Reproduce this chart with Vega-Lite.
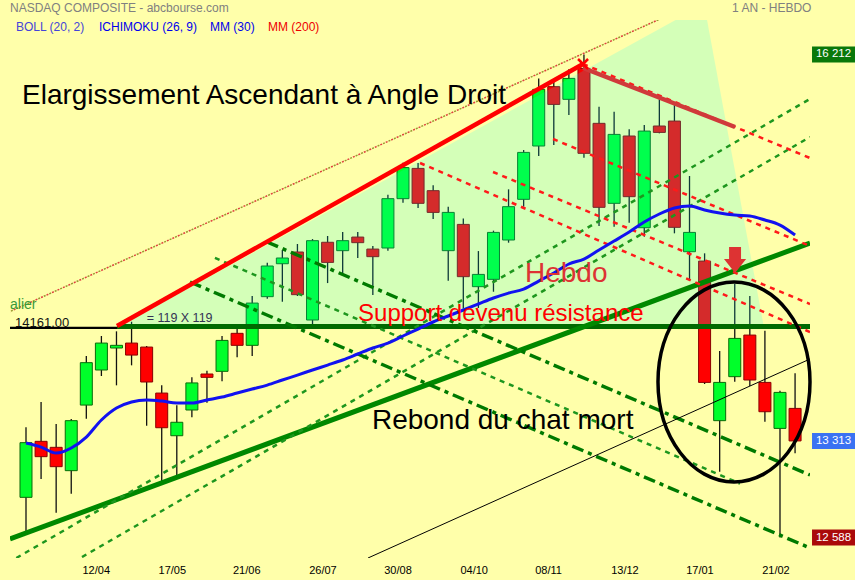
{
  "$schema": "https://vega.github.io/schema/vega-lite/v6.json",
  "width": 800,
  "height": 538,
  "autosize": {"type": "none"},
  "padding": {"left": 10, "top": 20, "right": 45, "bottom": 22},
  "background": "#FFFFAA",
  "config": {
    "view": {"stroke": null},
    "font": "Liberation Sans",
    "text": {"font": "Liberation Sans"},
    "scale": {"continuousPadding": 0}
  },
  "datasets": {
    "candles": [
      {"i":0,"o":12890,"h":13415,"l":12625,"c":13300},
      {"i":1,"o":13310,"h":13605,"l":13027,"c":13195},
      {"i":2,"o":13265,"h":13440,"l":12775,"c":13120},
      {"i":3,"o":13090,"h":13478,"l":12917,"c":13465},
      {"i":4,"o":13582,"h":13950,"l":13480,"c":13900},
      {"i":5,"o":13845,"h":14100,"l":13800,"c":14047},
      {"i":6,"o":14010,"h":14135,"l":13730,"c":14030},
      {"i":7,"o":14047,"h":14207,"l":13880,"c":13957},
      {"i":8,"o":14017,"h":14025,"l":13427,"c":13755},
      {"i":9,"o":13672,"h":13730,"l":13000,"c":13412},
      {"i":10,"o":13352,"h":13580,"l":13057,"c":13453},
      {"i":11,"o":13545,"h":13790,"l":13490,"c":13748},
      {"i":12,"o":13815,"h":13840,"l":13600,"c":13790},
      {"i":13,"o":13835,"h":14100,"l":13760,"c":14067},
      {"i":14,"o":14120,"h":14180,"l":13940,"c":14030},
      {"i":15,"o":14030,"h":14400,"l":13950,"c":14347},
      {"i":16,"o":14395,"h":14650,"l":14380,"c":14625},
      {"i":17,"o":14642,"h":14745,"l":14357,"c":14685},
      {"i":18,"o":14730,"h":14790,"l":14400,"c":14410},
      {"i":19,"o":14220,"h":14827,"l":14182,"c":14815},
      {"i":20,"o":14803,"h":14850,"l":14497,"c":14652},
      {"i":21,"o":14740,"h":14880,"l":14572,"c":14815},
      {"i":22,"o":14842,"h":14880,"l":14685,"c":14800},
      {"i":23,"o":14752,"h":14775,"l":14407,"c":14695},
      {"i":24,"o":14760,"h":15160,"l":14740,"c":15130},
      {"i":25,"o":15130,"h":15400,"l":15100,"c":15363},
      {"i":26,"o":15357,"h":15397,"l":15060,"c":15095},
      {"i":27,"o":15190,"h":15230,"l":14977,"c":15027},
      {"i":28,"o":14740,"h":15070,"l":14515,"c":15027},
      {"i":29,"o":14937,"h":14982,"l":14307,"c":14545},
      {"i":30,"o":14470,"h":14737,"l":14310,"c":14562},
      {"i":31,"o":14525,"h":14890,"l":14432,"c":14877},
      {"i":32,"o":14820,"h":15200,"l":14800,"c":15070},
      {"i":33,"o":15125,"h":15495,"l":15070,"c":15477},
      {"i":34,"o":15525,"h":16032,"l":15450,"c":15950},
      {"i":35,"o":15970,"h":16025,"l":15532,"c":15837},
      {"i":36,"o":15875,"h":16100,"l":15757,"c":16032},
      {"i":37,"o":16107,"h":16212,"l":15437,"c":15470},
      {"i":38,"o":15695,"h":15820,"l":14925,"c":15065},
      {"i":39,"o":15095,"h":15782,"l":14920,"c":15612},
      {"i":40,"o":15600,"h":15650,"l":14950,"c":15145},
      {"i":41,"o":14912,"h":15682,"l":14845,"c":15637},
      {"i":42,"o":15675,"h":15875,"l":15620,"c":15627},
      {"i":43,"o":15712,"h":15832,"l":14870,"c":14915},
      {"i":44,"o":14732,"h":15300,"l":14515,"c":14877},
      {"i":45,"o":14662,"h":14720,"l":13740,"c":13752},
      {"i":46,"o":13465,"h":13987,"l":13082,"c":13752},
      {"i":47,"o":13795,"h":14490,"l":13757,"c":14082},
      {"i":48,"o":14107,"h":14400,"l":13725,"c":13770},
      {"i":49,"o":13752,"h":14140,"l":13457,"c":13532},
      {"i":50,"o":13407,"h":13690,"l":12588,"c":13677},
      {"i":51,"o":13557,"h":13820,"l":13220,"c":13313}
    ],
    "mm30": [
      {"i":0,"v":13297},{"i":1,"v":13267},{"i":2,"v":13222},{"i":3,"v":13260},{"i":4,"v":13342},
      {"i":5,"v":13470},{"i":6,"v":13560},{"i":7,"v":13605},{"i":8,"v":13620},{"i":9,"v":13612},
      {"i":10,"v":13597},{"i":11,"v":13597},{"i":12,"v":13620},{"i":13,"v":13642},{"i":14,"v":13672},
      {"i":15,"v":13702},{"i":16,"v":13732},{"i":17,"v":13770},{"i":18,"v":13807},{"i":19,"v":13845},
      {"i":20,"v":13882},{"i":21,"v":13920},{"i":22,"v":13965},{"i":23,"v":14010},{"i":24,"v":14047},
      {"i":25,"v":14100},{"i":26,"v":14152},{"i":27,"v":14205},{"i":28,"v":14250},{"i":29,"v":14295},
      {"i":30,"v":14340},{"i":31,"v":14385},{"i":32,"v":14422},{"i":33,"v":14452},{"i":34,"v":14512},
      {"i":35,"v":14572},{"i":36,"v":14640},{"i":37,"v":14677},{"i":38,"v":14745},{"i":39,"v":14812},
      {"i":40,"v":14880},{"i":41,"v":14955},{"i":42,"v":15015},{"i":43,"v":15060},{"i":44,"v":15075},
      {"i":45,"v":15045},{"i":46,"v":15022},{"i":47,"v":15007},{"i":48,"v":15000},{"i":49,"v":14970},
      {"i":50,"v":14932},{"i":51,"v":14857}
    ],
    "dates": [
      {"t":"12/04","i":4.66},{"t":"17/05","i":9.70},{"t":"21/06","i":14.64},{"t":"26/07","i":19.69},
      {"t":"30/08","i":24.67},{"t":"04/10","i":29.72},{"t":"08/11","i":34.65},{"t":"13/12","i":39.72},
      {"t":"17/01","i":44.69},{"t":"21/02","i":49.73}
    ],
    "lines": [
      {"grp":"redThick","id":"r1","i":6.034,"v":14175},{"grp":"redThick","id":"r1","i":36.94,"v":16140},
      {"grp":"darkRed","id":"dr","i":36.94,"v":16110},{"grp":"darkRed","id":"dr","i":47.02,"v":15667.5},
      {"grp":"redDash","id":"ra","i":36.94,"v":16140},{"grp":"redDash","id":"ra","i":51.99,"v":15435},
      {"grp":"redDash","id":"rb","i":34.95,"v":15577.5},{"grp":"redDash","id":"rb","i":51.99,"v":14775},
      {"grp":"redDash","id":"rc","i":30.97,"v":15330},{"grp":"redDash","id":"rc","i":51.99,"v":14340},
      {"grp":"redDash","id":"rd","i":26.13,"v":15397.5},{"grp":"redDash","id":"rd","i":51.99,"v":14130},
      {"grp":"greenThick","id":"gt","i":-1.061,"v":12577.5},{"grp":"greenThick","id":"gt","i":51.99,"v":14797.5},
      {"grp":"greenFlat","id":"gf","i":6.034,"v":14172},{"grp":"greenFlat","id":"gf","i":51.99,"v":14172},
      {"grp":"greenDashUp","id":"g1","i":-0.643,"v":12435},{"grp":"greenDashUp","id":"g1","i":51.99,"v":15877.5},
      {"grp":"greenDashUp","id":"g2","i":3.714,"v":12442.5},{"grp":"greenDashUp","id":"g2","i":51.99,"v":15592.5},
      {"grp":"greenDashDot","id":"dU","i":15.98,"v":14805},{"grp":"greenDashDot","id":"dU","i":51.99,"v":13057.5},
      {"grp":"greenDashDot","id":"dL","i":10.875,"v":14505},{"grp":"greenDashDot","id":"dL","i":51.99,"v":12510},
      {"grp":"greenDashDown","id":"dm","i":12.53,"v":14686},{"grp":"greenDashDown","id":"dm","i":47.35,"v":12993},
      {"grp":"blackThin","id":"bt","i":22.68,"v":12435},{"grp":"blackThin","id":"bt","i":51.99,"v":13927.5},
      {"grp":"dotted","id":"ot","i":-1.724,"v":14250},{"grp":"dotted","id":"ot","i":43.37,"v":16545}
    ]
  },
  "layer": [
    {
      "data": {"name": "candles"},
      "mark": {"type": "rule", "color": "#111111", "strokeWidth": 1.3},
      "encoding": {
        "x": {"field": "i", "type": "quantitative", "title": null, "axis": null,
              "scale": {"domain": [-1.061, 51.99], "nice": false, "zero": false, "padding": 0}},
        "y": {"field": "l", "type": "quantitative", "title": null,
              "scale": {"domain": [12435, 16470], "nice": false, "zero": false, "padding": 0},
              "axis": {"orient": "right", "values": [12600, 12900, 13200, 13500, 13800, 14100, 14400, 14700, 15000, 15300, 15600, 15900, 16200],
                       "labelExpr": "replace(format(datum.value, ','), ',', ' ')",
                       "domain": false, "ticks": false, "grid": false, "labelPadding": 5, "labelFontSize": 11,
                       "labelColor": "#000000", "labelFont": "Liberation Sans", "labelOverlap": false, "labelFlush": false}},
        "y2": {"field": "h"}
      }
    },
    {
      "data": {"name": "candles"},
      "mark": {"type": "bar", "size": 12, "strokeWidth": 1},
      "encoding": {
        "x": {"field": "i", "type": "quantitative", "title": null, "axis": null,
              "scale": {"domain": [-1.061, 51.99], "nice": false, "zero": false, "padding": 0}},
        "y": {"field": "o", "type": "quantitative", "title": null, "axis": null,
              "scale": {"domain": [12435, 16470], "nice": false, "zero": false, "padding": 0}},
        "y2": {"field": "c"},
        "fill": {"condition": {"test": "datum.c >= datum.o", "value": "#00FF2A"}, "value": "#FF0000"},
        "stroke": {"condition": {"test": "datum.c >= datum.o", "value": "#0A6A0A"}, "value": "#8A0000"}
      }
    },
    {
      "data": {"values": [{"i": 6.034, "v": 14161}, {"i": 44.97, "v": 16588}, {"i": 48.94, "v": 14161}]},
      "mark": {"type": "area", "color": "#00FFFF", "opacity": 0.17, "clip": true},
      "encoding": {
        "x": {"field": "i", "type": "quantitative", "title": null, "axis": null,
              "scale": {"domain": [-1.061, 51.99], "nice": false, "zero": false, "padding": 0}},
        "y": {"field": "v", "type": "quantitative", "title": null, "axis": null,
              "scale": {"domain": [12435, 16470], "nice": false, "zero": false, "padding": 0}},
        "y2": {"datum": 14161}
      }
    },
    {
      "data": {"values": [{"v": 14161}]},
      "mark": {"type": "rule", "color": "#000000", "strokeWidth": 2.2},
      "encoding": {
        "y": {"field": "v", "type": "quantitative", "title": null, "axis": null,
              "scale": {"domain": [12435, 16470], "nice": false, "zero": false, "padding": 0}}
      }
    },
    {
      "data": {"name": "lines"},
      "transform": [{"filter": "datum.grp == 'greenFlat'"}],
      "mark": {"type": "line", "color": "#006A00", "strokeWidth": 5, "clip": true},
      "encoding": {
        "x": {"field": "i", "type": "quantitative", "title": null, "axis": null,
              "scale": {"domain": [-1.061, 51.99], "nice": false, "zero": false, "padding": 0}},
        "y": {"field": "v", "type": "quantitative", "title": null, "axis": null,
              "scale": {"domain": [12435, 16470], "nice": false, "zero": false, "padding": 0}},
        "detail": {"field": "id"}
      }
    },
    {
      "data": {"name": "lines"},
      "transform": [{"filter": "datum.grp == 'greenThick'"}],
      "mark": {"type": "line", "color": "#008800", "strokeWidth": 5, "clip": true},
      "encoding": {
        "x": {"field": "i", "type": "quantitative", "title": null, "axis": null,
              "scale": {"domain": [-1.061, 51.99], "nice": false, "zero": false, "padding": 0}},
        "y": {"field": "v", "type": "quantitative", "title": null, "axis": null,
              "scale": {"domain": [12435, 16470], "nice": false, "zero": false, "padding": 0}},
        "detail": {"field": "id"}
      }
    },
    {
      "data": {"name": "lines"},
      "transform": [{"filter": "datum.grp == 'greenDashUp' || datum.grp == 'greenDashDown'"}],
      "mark": {"type": "line", "color": "#1E961E", "strokeWidth": 2.5, "strokeDash": [5, 5], "clip": true},
      "encoding": {
        "x": {"field": "i", "type": "quantitative", "title": null, "axis": null,
              "scale": {"domain": [-1.061, 51.99], "nice": false, "zero": false, "padding": 0}},
        "y": {"field": "v", "type": "quantitative", "title": null, "axis": null,
              "scale": {"domain": [12435, 16470], "nice": false, "zero": false, "padding": 0}},
        "detail": {"field": "id"}
      }
    },
    {
      "data": {"name": "lines"},
      "transform": [{"filter": "datum.grp == 'greenDashDot'"}],
      "mark": {"type": "line", "color": "#007A00", "strokeWidth": 3.5, "strokeDash": [12, 5, 4, 5], "clip": true},
      "encoding": {
        "x": {"field": "i", "type": "quantitative", "title": null, "axis": null,
              "scale": {"domain": [-1.061, 51.99], "nice": false, "zero": false, "padding": 0}},
        "y": {"field": "v", "type": "quantitative", "title": null, "axis": null,
              "scale": {"domain": [12435, 16470], "nice": false, "zero": false, "padding": 0}},
        "detail": {"field": "id"}
      }
    },
    {
      "data": {"name": "lines"},
      "transform": [{"filter": "datum.grp == 'blackThin'"}],
      "mark": {"type": "line", "color": "#000000", "strokeWidth": 1, "clip": true},
      "encoding": {
        "x": {"field": "i", "type": "quantitative", "title": null, "axis": null,
              "scale": {"domain": [-1.061, 51.99], "nice": false, "zero": false, "padding": 0}},
        "y": {"field": "v", "type": "quantitative", "title": null, "axis": null,
              "scale": {"domain": [12435, 16470], "nice": false, "zero": false, "padding": 0}},
        "detail": {"field": "id"}
      }
    },
    {
      "data": {"name": "lines"},
      "transform": [{"filter": "datum.grp == 'dotted'"}],
      "mark": {"type": "line", "color": "#9A9A30", "strokeWidth": 1.5, "strokeDash": [2, 4], "clip": true},
      "encoding": {
        "x": {"field": "i", "type": "quantitative", "title": null, "axis": null,
              "scale": {"domain": [-1.061, 51.99], "nice": false, "zero": false, "padding": 0}},
        "y": {"field": "v", "type": "quantitative", "title": null, "axis": null,
              "scale": {"domain": [12435, 16470], "nice": false, "zero": false, "padding": 0}},
        "detail": {"field": "id"}
      }
    },
    {
      "data": {"name": "lines"},
      "transform": [{"filter": "datum.grp == 'dotted'"}],
      "mark": {"type": "line", "color": "#E04040", "strokeWidth": 1.5, "strokeDash": [2, 4], "strokeDashOffset": 3, "clip": true},
      "encoding": {
        "x": {"field": "i", "type": "quantitative", "title": null, "axis": null,
              "scale": {"domain": [-1.061, 51.99], "nice": false, "zero": false, "padding": 0}},
        "y": {"field": "v", "type": "quantitative", "title": null, "axis": null,
              "scale": {"domain": [12435, 16470], "nice": false, "zero": false, "padding": 0}},
        "detail": {"field": "id"}
      }
    },
    {
      "data": {"name": "lines"},
      "transform": [{"filter": "datum.grp == 'redDash'"}],
      "mark": {"type": "line", "color": "#FF1A1A", "strokeWidth": 2.5, "strokeDash": [5, 5], "clip": true},
      "encoding": {
        "x": {"field": "i", "type": "quantitative", "title": null, "axis": null,
              "scale": {"domain": [-1.061, 51.99], "nice": false, "zero": false, "padding": 0}},
        "y": {"field": "v", "type": "quantitative", "title": null, "axis": null,
              "scale": {"domain": [12435, 16470], "nice": false, "zero": false, "padding": 0}},
        "detail": {"field": "id"}
      }
    },
    {
      "data": {"name": "lines"},
      "transform": [{"filter": "datum.grp == 'redThick'"}],
      "mark": {"type": "line", "color": "#FF0000", "strokeWidth": 4.5, "clip": true},
      "encoding": {
        "x": {"field": "i", "type": "quantitative", "title": null, "axis": null,
              "scale": {"domain": [-1.061, 51.99], "nice": false, "zero": false, "padding": 0}},
        "y": {"field": "v", "type": "quantitative", "title": null, "axis": null,
              "scale": {"domain": [12435, 16470], "nice": false, "zero": false, "padding": 0}},
        "detail": {"field": "id"}
      }
    },
    {
      "data": {"name": "lines"},
      "transform": [{"filter": "datum.grp == 'darkRed'"}],
      "mark": {"type": "line", "color": "#D03A3A", "strokeWidth": 4.5, "clip": true},
      "encoding": {
        "x": {"field": "i", "type": "quantitative", "title": null, "axis": null,
              "scale": {"domain": [-1.061, 51.99], "nice": false, "zero": false, "padding": 0}},
        "y": {"field": "v", "type": "quantitative", "title": null, "axis": null,
              "scale": {"domain": [12435, 16470], "nice": false, "zero": false, "padding": 0}},
        "detail": {"field": "id"}
      }
    },
    {
      "data": {"name": "mm30"},
      "mark": {"type": "line", "color": "#1212F0", "strokeWidth": 3, "interpolate": "monotone", "clip": true},
      "encoding": {
        "x": {"field": "i", "type": "quantitative", "title": null, "axis": null,
              "scale": {"domain": [-1.061, 51.99], "nice": false, "zero": false, "padding": 0}},
        "y": {"field": "v", "type": "quantitative", "title": null, "axis": null,
              "scale": {"domain": [12435, 16470], "nice": false, "zero": false, "padding": 0}}
      }
    },
    {
      "data": {"values": [{"i": 46.95, "v": 13755}]},
      "mark": {"type": "point", "filled": false, "opacity": 1, "stroke": "#000000", "strokeWidth": 3.5, "size": 40000,
               "shape": "M0,-1 C0.42,-1 0.76,-0.5523 0.76,0 C0.76,0.5523 0.42,1 0,1 C-0.42,1 -0.76,0.5523 -0.76,0 C-0.76,-0.5523 -0.42,-1 0,-1 Z"},
      "encoding": {
        "x": {"field": "i", "type": "quantitative", "title": null, "axis": null,
              "scale": {"domain": [-1.061, 51.99], "nice": false, "zero": false, "padding": 0}},
        "y": {"field": "v", "type": "quantitative", "title": null, "axis": null,
              "scale": {"domain": [12435, 16470], "nice": false, "zero": false, "padding": 0}}
      }
    },
    {
      "data": {"values": [{"i": 47.02, "v": 14670}]},
      "mark": {"type": "point", "filled": true, "opacity": 1, "color": "#DD3333", "size": 676,
               "shape": "M-0.46,-1 L0.46,-1 L0.46,-0.08 L0.85,-0.08 L0,1 L-0.85,-0.08 L-0.46,-0.08 Z"},
      "encoding": {
        "x": {"field": "i", "type": "quantitative", "title": null, "axis": null,
              "scale": {"domain": [-1.061, 51.99], "nice": false, "zero": false, "padding": 0}},
        "y": {"field": "v", "type": "quantitative", "title": null, "axis": null,
              "scale": {"domain": [12435, 16470], "nice": false, "zero": false, "padding": 0}}
      }
    },
    {
      "data": {"values": [{"i": 36.94, "v": 16140}]},
      "mark": {"type": "point", "filled": false, "opacity": 1, "stroke": "#FF0000", "strokeWidth": 2.5, "size": 100,
               "shape": "M-1,-1 L1,1 M1,-1 L-1,1"},
      "encoding": {
        "x": {"field": "i", "type": "quantitative", "title": null, "axis": null,
              "scale": {"domain": [-1.061, 51.99], "nice": false, "zero": false, "padding": 0}},
        "y": {"field": "v", "type": "quantitative", "title": null, "axis": null,
              "scale": {"domain": [12435, 16470], "nice": false, "zero": false, "padding": 0}}
      }
    },
    {
      "data": {"values": [{"t": "Elargissement Ascendant à Angle Droit", "i": -0.265, "v": 15840},
                          {"t": "Rebond du chat mort", "i": 22.94, "v": 13402}]},
      "mark": {"type": "text", "align": "left", "baseline": "alphabetic", "fontSize": 28, "color": "#000000"},
      "encoding": {
        "x": {"field": "i", "type": "quantitative", "title": null, "axis": null,
              "scale": {"domain": [-1.061, 51.99], "nice": false, "zero": false, "padding": 0}},
        "y": {"field": "v", "type": "quantitative", "title": null, "axis": null,
              "scale": {"domain": [12435, 16470], "nice": false, "zero": false, "padding": 0}},
        "text": {"field": "t"}
      }
    },
    {
      "data": {"values": [{"t": "Hebdo", "i": 33.09, "v": 14505}]},
      "mark": {"type": "text", "align": "left", "baseline": "alphabetic", "fontSize": 28, "color": "#DD3333"},
      "encoding": {
        "x": {"field": "i", "type": "quantitative", "title": null, "axis": null,
              "scale": {"domain": [-1.061, 51.99], "nice": false, "zero": false, "padding": 0}},
        "y": {"field": "v", "type": "quantitative", "title": null, "axis": null,
              "scale": {"domain": [12435, 16470], "nice": false, "zero": false, "padding": 0}},
        "text": {"field": "t"}
      }
    },
    {
      "data": {"values": [{"t": "Support devenu résistance", "i": 22.02, "v": 14212}]},
      "mark": {"type": "text", "align": "left", "baseline": "alphabetic", "fontSize": 24, "color": "#FF0000"},
      "encoding": {
        "x": {"field": "i", "type": "quantitative", "title": null, "axis": null,
              "scale": {"domain": [-1.061, 51.99], "nice": false, "zero": false, "padding": 0}},
        "y": {"field": "v", "type": "quantitative", "title": null, "axis": null,
              "scale": {"domain": [12435, 16470], "nice": false, "zero": false, "padding": 0}},
        "text": {"field": "t"}
      }
    },
    {
      "data": {"values": [{"t": "14161.00", "i": -0.73, "v": 14167}]},
      "mark": {"type": "text", "align": "left", "baseline": "alphabetic", "fontSize": 13, "color": "#111111"},
      "encoding": {
        "x": {"field": "i", "type": "quantitative", "title": null, "axis": null,
              "scale": {"domain": [-1.061, 51.99], "nice": false, "zero": false, "padding": 0}},
        "y": {"field": "v", "type": "quantitative", "title": null, "axis": null,
              "scale": {"domain": [12435, 16470], "nice": false, "zero": false, "padding": 0}},
        "text": {"field": "t"}
      }
    },
    {
      "data": {"values": [{"t": "=  119 X 119", "i": 8.0, "v": 14207}]},
      "mark": {"type": "text", "align": "left", "baseline": "alphabetic", "fontSize": 12.5, "color": "#333355"},
      "encoding": {
        "x": {"field": "i", "type": "quantitative", "title": null, "axis": null,
              "scale": {"domain": [-1.061, 51.99], "nice": false, "zero": false, "padding": 0}},
        "y": {"field": "v", "type": "quantitative", "title": null, "axis": null,
              "scale": {"domain": [12435, 16470], "nice": false, "zero": false, "padding": 0}},
        "text": {"field": "t"}
      }
    },
    {
      "data": {"values": [{"t": "alier", "i": -1.061, "v": 14302}]},
      "mark": {"type": "text", "align": "left", "baseline": "alphabetic", "fontSize": 14, "color": "#3A9A3A"},
      "encoding": {
        "x": {"field": "i", "type": "quantitative", "title": null, "axis": null,
              "scale": {"domain": [-1.061, 51.99], "nice": false, "zero": false, "padding": 0}},
        "y": {"field": "v", "type": "quantitative", "title": null, "axis": null,
              "scale": {"domain": [12435, 16470], "nice": false, "zero": false, "padding": 0}},
        "text": {"field": "t"}
      }
    },
    {
      "data": {"values": [{"t": "NASDAQ COMPOSITE - abcbourse.com", "i": -1.061, "v": 16560},
                          {"t": "1 AN - HEBDO", "i": 46.82, "v": 16560}]},
      "mark": {"type": "text", "align": "left", "baseline": "middle", "fontSize": 12, "color": "#808080"},
      "encoding": {
        "x": {"field": "i", "type": "quantitative", "title": null, "axis": null,
              "scale": {"domain": [-1.061, 51.99], "nice": false, "zero": false, "padding": 0}},
        "y": {"field": "v", "type": "quantitative", "title": null, "axis": null,
              "scale": {"domain": [12435, 16470], "nice": false, "zero": false, "padding": 0}},
        "text": {"field": "t"}
      }
    },
    {
      "data": {"values": [{"t": "BOLL (20, 2)", "i": -0.663, "v": 16417},
                          {"t": "ICHIMOKU (26, 9)", "i": 4.84, "v": 16417},
                          {"t": "MM (30)", "i": 12.2, "v": 16417},
                          {"t": "MM (200)", "i": 16.05, "v": 16417}]},
      "mark": {"type": "text", "align": "left", "baseline": "middle", "fontSize": 12},
      "encoding": {
        "x": {"field": "i", "type": "quantitative", "title": null, "axis": null,
              "scale": {"domain": [-1.061, 51.99], "nice": false, "zero": false, "padding": 0}},
        "y": {"field": "v", "type": "quantitative", "title": null, "axis": null,
              "scale": {"domain": [12435, 16470], "nice": false, "zero": false, "padding": 0}},
        "text": {"field": "t"},
        "color": {"field": "t", "type": "nominal", "legend": null,
                  "scale": {"domain": ["BOLL (20, 2)", "ICHIMOKU (26, 9)", "MM (30)", "MM (200)"],
                            "range": ["#4545D8", "#0000EE", "#0000EE", "#EE0000"]}}
      }
    },
    {
      "data": {"name": "dates"},
      "mark": {"type": "text", "align": "center", "baseline": "middle", "fontSize": 11, "color": "#000000"},
      "encoding": {
        "x": {"field": "i", "type": "quantitative", "title": null, "axis": null,
              "scale": {"domain": [-1.061, 51.99], "nice": false, "zero": false, "padding": 0}},
        "y": {"datum": 12337, "type": "quantitative", "title": null, "axis": null,
              "scale": {"domain": [12435, 16470], "nice": false, "zero": false, "padding": 0}},
        "text": {"field": "t"}
      }
    },
    {
      "data": {"values": [{"t": "16 212", "i": 53.55, "v": 16212},
                          {"t": "13 313", "i": 53.55, "v": 13313},
                          {"t": "12 588", "i": 53.55, "v": 12588}]},
      "mark": {"type": "point", "filled": true, "opacity": 1, "size": 1849,
               "shape": "M-1,-0.372 L1,-0.372 L1,0.372 L-1,0.372 Z"},
      "encoding": {
        "x": {"field": "i", "type": "quantitative", "title": null, "axis": null,
              "scale": {"domain": [-1.061, 51.99], "nice": false, "zero": false, "padding": 0}},
        "y": {"field": "v", "type": "quantitative", "title": null, "axis": null,
              "scale": {"domain": [12435, 16470], "nice": false, "zero": false, "padding": 0}},
        "fill": {"field": "t", "type": "nominal", "legend": null,
                 "scale": {"domain": ["16 212", "13 313", "12 588"], "range": ["#0A780A", "#3A72F2", "#AA0A0A"]}}
      }
    },
    {
      "data": {"values": [{"t": "16 212", "i": 53.55, "v": 16212},
                          {"t": "13 313", "i": 53.55, "v": 13313},
                          {"t": "12 588", "i": 53.55, "v": 12588}]},
      "mark": {"type": "text", "align": "center", "baseline": "middle", "fontSize": 11.5, "color": "#FFFFFF"},
      "encoding": {
        "x": {"field": "i", "type": "quantitative", "title": null, "axis": null,
              "scale": {"domain": [-1.061, 51.99], "nice": false, "zero": false, "padding": 0}},
        "y": {"field": "v", "type": "quantitative", "title": null, "axis": null,
              "scale": {"domain": [12435, 16470], "nice": false, "zero": false, "padding": 0}},
        "text": {"field": "t"}
      }
    }
  ]
}
